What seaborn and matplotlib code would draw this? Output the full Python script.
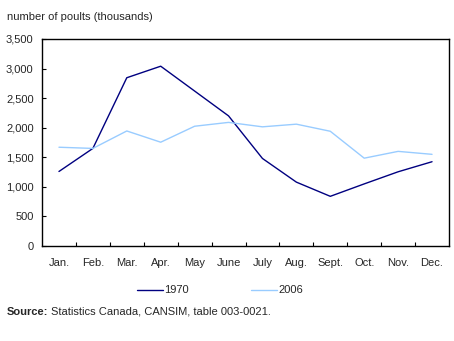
import matplotlib
matplotlib.use("Agg")
import matplotlib.pyplot as plt
import seaborn as sns
import pandas as pd
import numpy as np
from matplotlib.lines import Line2D

months = ["Jan.", "Feb.", "Mar.", "Apr.", "May", "June", "July", "Aug.", "Sept.", "Oct.", "Nov.", "Dec."]
values_1970 = [1260, 1650, 2845, 3040, 2620, 2200, 1480, 1080, 840, 1050, 1255, 1425]
values_2006 = [1670, 1650, 1945, 1755, 2025, 2090, 2015, 2060, 1940, 1485, 1600, 1550]
series_names = ["1970", "2006"]
colors = {"1970": "#000080", "2006": "#99ccff"}
y_ticks = [0, 500, 1000, 1500, 2000, 2500, 3000, 3500]

sns.set_theme(style="white")
plt.rcParams["font.family"] = ["Liberation Sans", "DejaVu Sans"]
FS = 8

pos = np.arange(len(months))
df = pd.DataFrame({
    "pos": np.concatenate([pos, pos]),
    "value": values_1970 + values_2006,
    "series": [series_names[0]] * len(months) + [series_names[1]] * len(months),
})

W, H = 454, 341
fig = plt.figure(figsize=(W / 100, H / 100), dpi=100)
ax = fig.add_axes([42 / W, (H - 246) / H, (449 - 42) / W, (246 - 39) / H])
sns.lineplot(data=df, x="pos", y="value", hue="series", palette=colors,
             linewidth=1.0, ax=ax, legend=False, sort=False)

ax.set_xlim(-0.5, len(months) - 0.5)
ax.set_ylim(0, 3500)
ax.set_xticks(pos)
ax.set_xticklabels(months, fontsize=FS)
ax.set_xticks(np.arange(len(months) - 1) + 0.5, minor=True)
ax.tick_params(axis="x", which="major", length=0, pad=9)
ax.tick_params(axis="x", which="minor", direction="in", length=3, width=0.8, color="black", bottom=True)
ax.set_yticks(y_ticks)
ax.set_yticklabels([f"{v:,}" for v in y_ticks], fontsize=FS)
ax.tick_params(axis="y", direction="in", length=3, width=0.8, color="black", left=True, pad=6)
ax.set_xlabel("")
ax.set_ylabel("")
for s in ax.spines.values():
    s.set_visible(True)
    s.set_color("black")
    s.set_linewidth(1.0)

fig.text(7 / W, 1 - 17 / H, "number of poults (thousands)", fontsize=FS, va="center", ha="left")

# legend
leg_y = 1 - 290 / H
for name, (x0, x1) in zip(series_names, [(137, 163), (251, 277)]):
    fig.add_artist(Line2D([x0 / W, x1 / W], [leg_y, leg_y], color=colors[name], lw=1.0,
                          transform=fig.transFigure))
    fig.text((x1 + 1) / W, leg_y, name, fontsize=FS, va="center", ha="left")

# source
src_y = 1 - 312 / H
t = fig.text(7 / W, src_y, "Source:", fontsize=FS, va="center", ha="left", fontweight="bold")
fig.canvas.draw()
bb = t.get_window_extent(renderer=fig.canvas.get_renderer())
fig.text((bb.x1 + 2.5) / W, src_y, "Statistics Canada, CANSIM, table 003-0021.", fontsize=FS,
         va="center", ha="left")
fig.savefig("out.png", dpi=100)
